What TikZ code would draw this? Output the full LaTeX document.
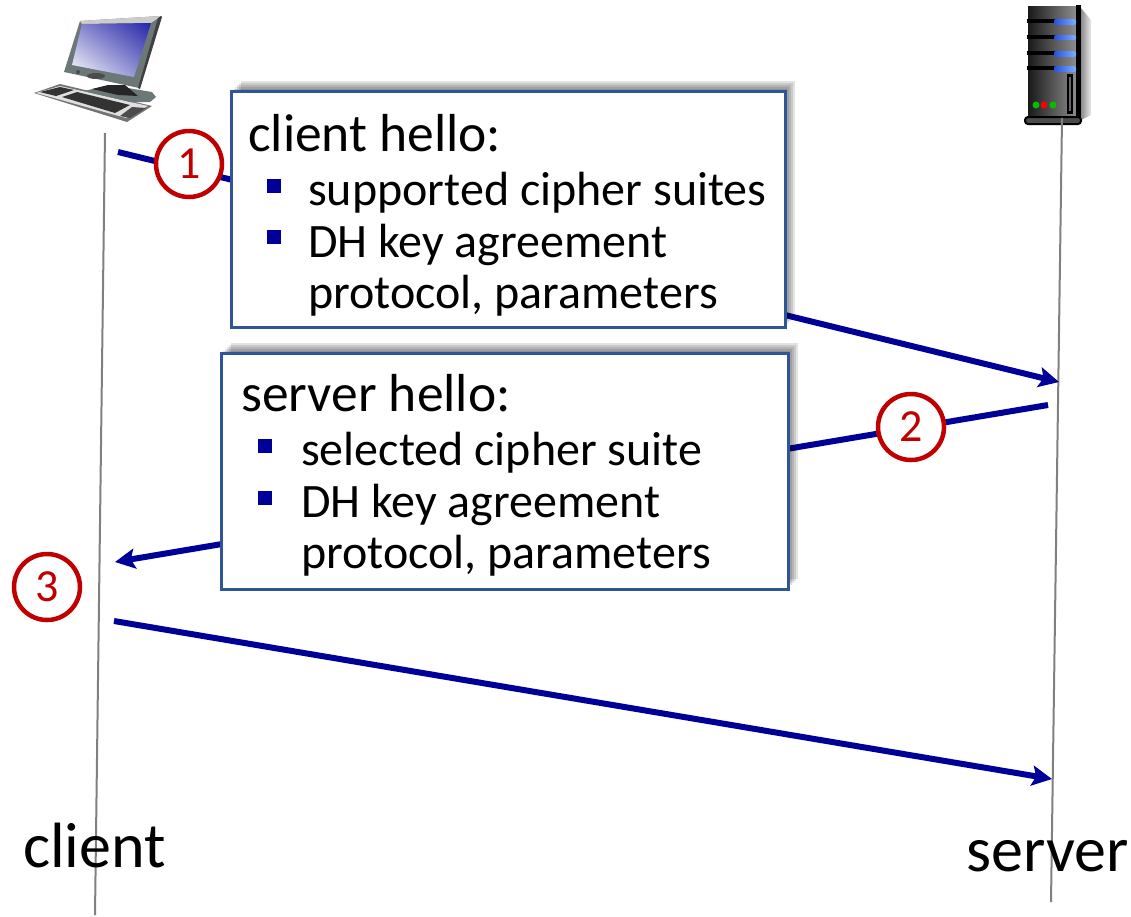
\documentclass[tikz,border=0pt]{standalone}
\usepackage{fontspec}
\usepackage{xcolor}
\setmainfont{Carlito}
\usetikzlibrary{positioning,shadows,shadings,arrows.meta}
\definecolor{arrowblue}{RGB}{0,0,153}
\definecolor{boxblue}{RGB}{47,85,151}
\definecolor{markred}{RGB}{192,0,0}
\definecolor{framegray}{RGB}{108,120,120}
\definecolor{drivelight}{RGB}{125,175,255}
\definecolor{drivedark}{RGB}{40,80,220}
\tikzset{
    softshadow/.style={general shadow={fill=black, opacity=.11, shadow xshift=#1, shadow yshift=#1}},
    msgbox/.style={draw=boxblue, line width=3pt, fill=white, minimum width=#1, minimum height=236pt, inner sep=0pt, outer sep=0pt, anchor=north west,
        softshadow=10pt, softshadow=8pt, softshadow=6pt, softshadow=4pt, softshadow=2pt},
    msgline/.style={draw=arrowblue, line width=6pt},
    timeline/.style={draw=gray, line width=2pt},
    stepmark/.style={circle, draw=markred, line width=4.5pt, fill=white, text=markred, minimum size=66pt, inner sep=0pt, outer sep=0pt, font=\fontsize{46}{54}\selectfont},
    bigtext/.style={anchor=base west, inner sep=0pt, font=\fontsize{53.5}{64}\selectfont},
    bodytext/.style={anchor=base west, inner sep=0pt, font=\fontsize{48}{58}\selectfont},
    endtext/.style={anchor=base west, inner sep=0pt, font=\fontsize{64}{76}\selectfont},
    bulletmark/.style={fill=arrowblue, minimum size=14pt, inner sep=0pt},
    drivebar/.style={left color=drivedark, right color=drivelight, rounded corners=2pt}
}
\begin{document}
\begin{tikzpicture}[x=1pt, y=-1pt, >={Stealth[length=20pt,width=20pt,inset=4pt]}]
    \useasboundingbox (0,0) rectangle (1131,916);

    \coordinate (clienttop) at (105,133);
    \coordinate (clientend) at (95,915);
    \coordinate (servertop) at (1062,118);
    \coordinate (serverend) at (1051,902);
    \coordinate (hellostart) at (118,152);
    \coordinate (helloend) at (1059,382);
    \coordinate (replystart) at (1048,405);
    \coordinate (replyend) at (115,562);
    \coordinate (finalstart) at (114,621);
    \coordinate (finalend) at (1052,779);

    % computer
    \fill[black!55] (34,93) -- (60,84) -- (152,106) -- (127,122) -- cycle;
    \fill[black!12] (36,93) -- (60,86) -- (148,106) -- (126,118) -- cycle;
    \fill[black!80] (40,92) -- (60,87) -- (74,90) -- (56,96) -- cycle;
    \fill[black!80] (62,97) -- (77,92) -- (130,105) -- (115,113) -- cycle;
    \fill[black!70] (120,116) -- (132,107) -- (146,108) -- (130,118) -- cycle;
    \fill[framegray] (84,91) -- (110,85) -- (152,92) -- (156,97) -- (150,102) -- (130,102) -- cycle;
    \fill[black!85] (92,89) -- (108,85) -- (125,85) -- (138,96) -- (118,95) -- cycle;
    \fill[framegray] (80,21) -- (161,16) -- (139,88) -- (64,72) -- cycle;
    \fill[black!20] (80,21) -- (161,16) -- (151,23) -- (82,24) -- cycle;
    \fill[black!75] (161,16) -- (162,17) -- (140,89) -- (138,88) -- (158,18) -- cycle;
    \shade[shading=bilinear interpolation, lower left=white, upper left=arrowblue!45, lower right=arrowblue!50, upper right=arrowblue!85] (82,24) -- (151,23) -- (134,77) -- (72,65) -- cycle;
    \fill[black!70] (96,76) ellipse (9pt and 3pt);
    \fill[black!70] (78,72) circle (2pt);

    % server
    \shade[left color=black!90, right color=black!45] (1028,6) rectangle (1076,118);
    \shade[left color=black!45, right color=black!8] (1081,8) -- (1091,20) -- (1091,115) -- (1081,120) -- cycle;
    \fill[black] (1076,5) rectangle (1081,122);
    \fill[black] (1027,19) rectangle (1056,23);
    \fill[black] (1027,35) rectangle (1056,39);
    \fill[black] (1027,51) rectangle (1056,55);
    \fill[black] (1027,66) rectangle (1056,70);
    \shade[drivebar] (1054,19) rectangle (1076,25);
    \shade[drivebar] (1054,35) rectangle (1076,40);
    \shade[drivebar] (1054,51) rectangle (1076,57);
    \shade[drivebar] (1054,66) rectangle (1076,72);
    \fill[black] (1067,74) rectangle (1073,114);
    \fill[black!60] (1069,77) rectangle (1071,111);
    \fill[green!75!black] (1036,105) circle (3.5pt);
    \fill[red] (1044,105) circle (3.5pt);
    \fill[green!75!black] (1053,105) circle (3.5pt);
    \draw[black, line width=2pt, fill=black!70, rounded corners=3pt] (1025,117) rectangle (1081,124);

    \draw[timeline] (clienttop) -- (clientend);
    \draw[timeline] (servertop) -- (serverend);

    \draw[msgline, ->] (hellostart) -- (helloend);
    \draw[msgline, ->] (replystart) -- (replyend);
    \draw[msgline, ->] (finalstart) -- (finalend);

    \node[msgbox=554pt] (hellobox) at (231,91) {};
    \node[msgbox=567pt] (replybox) at (221,353) {};

    \node[bigtext] (hellotitle) at (248,151) {client hello:};
    \node[bulletmark] (hellomarka) at (274,186) {};
    \node[bodytext] (helloa) at (308,205) {supported cipher suites};
    \node[bulletmark] (hellomarkb) at (274,237) {};
    \node[bodytext] (hellob) at (308,257) {DH key agreement};
    \node[bodytext] (helloc) at (308,308) {protocol, parameters};

    \node[bigtext] (replytitle) at (241,411) {server hello:};
    \node[bulletmark] (replymarka) at (265,446) {};
    \node[bodytext] (replya) at (301,465) {selected cipher suite};
    \node[bulletmark] (replymarkb) at (265,498) {};
    \node[bodytext] (replyb) at (301,517) {DH key agreement};
    \node[bodytext] (replyc) at (301,568) {protocol, parameters};

    \node[stepmark] (stepa) at (189,164) {1};
    \node[stepmark] (stepb) at (911,427) {2};
    \node[stepmark] (stepc) at (47,587) {3};

    \node[endtext] (clientlabel) at (23,867) {client};
    \node[endtext] (serverlabel) at (966,871) {server};
\end{tikzpicture}
\end{document}
